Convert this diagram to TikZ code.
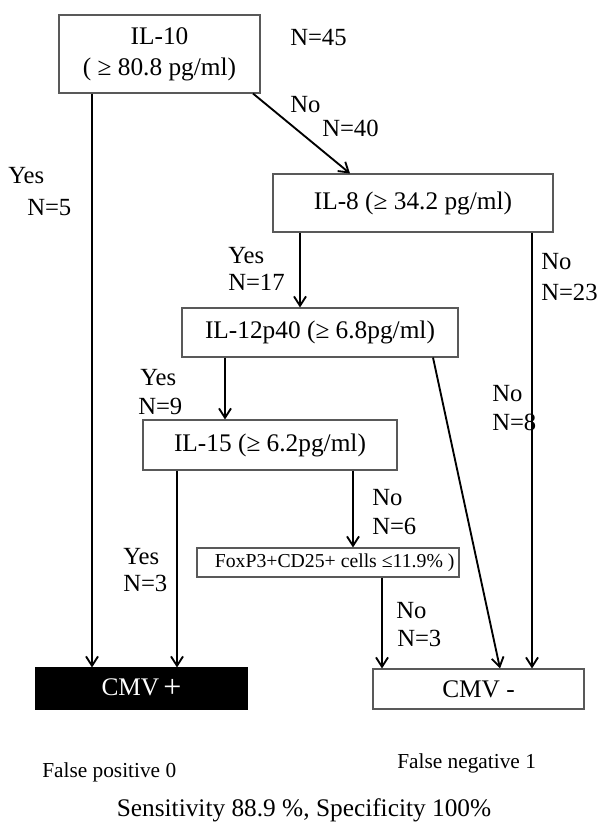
\documentclass[tikz,border=0pt]{standalone}
\usepackage{fontspec}
\setmainfont{Liberation Serif}
\usetikzlibrary{arrows.meta}

\begin{document}
\begin{tikzpicture}[x=0.75pt,y=0.75pt,yscale=-1,xscale=1,
  box/.style={draw=black!65,line width=0.8pt,inner sep=0pt,font=\fontsize{19}{23}\selectfont},
  lab/.style={anchor=west,inner sep=0pt,font=\fontsize{18.5}{22}\selectfont},
  arr/.style={line width=1.4pt,-{Straight Barb[length=7pt,width=9pt]}}]
\useasboundingbox (0,0) rectangle (596,830);

%Boxes
\node[box,minimum width=150.75pt,minimum height=58.5pt,align=center] (il10) at (159.5,54) {IL-10\\( ≥ 80.8 pg/ml)};
\node[box,minimum width=210pt,minimum height=43.5pt] (il8) at (413,203) {IL-8 (≥ 34.2 pg/ml)};
\node[box,minimum width=207pt,minimum height=36.75pt] (il12) at (320,332.5) {IL-12p40 (≥ 6.8pg/ml)};
\node[box,minimum width=190.5pt,minimum height=37.5pt] (il15) at (270,445) {IL-15 (≥ 6.2pg/ml)};
\node[box,minimum width=196.5pt,minimum height=21.75pt,font=\fontsize{14.8}{17}\selectfont] (foxp3) at (328,562.5) {\hspace{10pt}FoxP3+CD25+ cells ≤11.9\% )};
\node[box,draw=black,fill=black,text=white,minimum width=158.25pt,minimum height=30.75pt] (cmvp) at (141.5,688.5) {CMV\,\raisebox{-1.5pt}{\fontsize{24}{24}\selectfont +}};
\node[box,minimum width=158.25pt,minimum height=30pt] (cmvn) at (478.5,689) {CMV -};

%Columns for the arrows
\coordinate (c1) at (92,0);
\coordinate (c2) at (177,0);
\coordinate (c3) at (300,0);
\coordinate (c4) at (225,0);
\coordinate (c5) at (353,0);
\coordinate (c6) at (382,0);
\coordinate (c7) at (532,0);
\coordinate (d1) at (253,0);
\coordinate (d2) at (350,0);
\coordinate (d3) at (433,0);
\coordinate (d4) at (500,0);

%Arrows
\draw[arr] (il10.south -| c1) -- (cmvp.north -| c1);
\draw[arr] (il10.south -| d1) -- (il8.north -| d2);
\draw[arr] (il8.south -| c3) -- (il12.north -| c3);
\draw[arr] (il8.south -| c7) -- (cmvn.north -| c7);
\draw[arr] (il12.south -| c4) -- (il15.north -| c4);
\draw[arr] (il12.south -| d3) -- (cmvn.north -| d4);
\draw[arr] (il15.south -| c2) -- (cmvp.north -| c2);
\draw[arr] (il15.south -| c5) -- (foxp3.north -| c5);
\draw[arr] (foxp3.south -| c6) -- (cmvn.north -| c6);

%Labels
\node[lab] (n45) at (290,38) {N=45};
\node[lab] (no1) at (290,105) {No};
\node[lab] (n40) at (322,128) {N=40};
\node[lab] (yes1) at (8,176) {Yes};
\node[lab] (n5) at (27,208) {N=5};
\node[lab] (yes2) at (228,256) {Yes};
\node[lab] (n17) at (228,282) {N=17};
\node[lab] (no2) at (541,262) {No};
\node[lab] (n23) at (541,292) {N=23};
\node[lab] (yes3) at (140,378) {Yes};
\node[lab] (n9) at (138,406) {N=9};
\node[lab] (no3) at (492,394) {No};
\node[lab] (n8) at (492,422) {N=8};
\node[lab] (no4) at (372,498) {No};
\node[lab] (n6) at (372,526) {N=6};
\node[lab] (yes4) at (123,557) {Yes};
\node[lab] (n3a) at (123,583) {N=3};
\node[lab] (no5) at (396,611) {No};
\node[lab] (n3b) at (397,638) {N=3};

%Results
\node[lab,font=\fontsize{16}{19}\selectfont] (fpos) at (42,772) {False positive 0};
\node[lab,font=\fontsize{16}{19}\selectfont] (fneg) at (397,763) {False negative 1};
\node[inner sep=0pt,font=\fontsize{19}{23}\selectfont] (sens) at (304,810) {Sensitivity 88.9 \%, Specificity 100\%};
\end{tikzpicture}
\end{document}
